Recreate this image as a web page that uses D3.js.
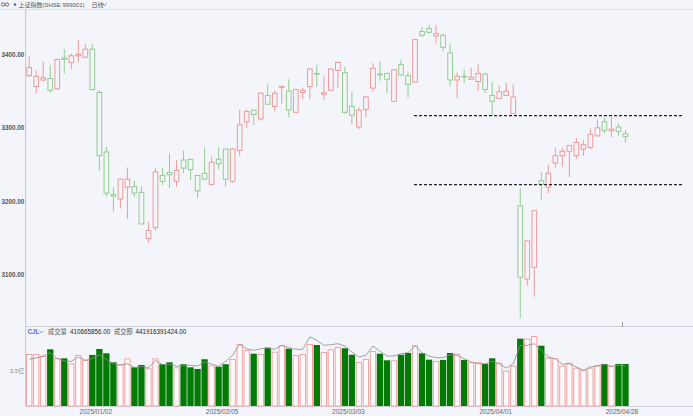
<!DOCTYPE html>
<html><head><meta charset="utf-8">
<script src="https://cdn.jsdelivr.net/npm/d3@7"></script>
<style>
html,body{margin:0;padding:0;background:#f4f5fa;}
svg{display:block;font-family:"Liberation Sans","Noto Sans CJK SC",sans-serif;}
</style></head><body>
<svg id="c" width="693" height="416"></svg>
<script>
const dates = [
"2024/12/18","2024/12/19","2024/12/20","2024/12/23","2024/12/24","2024/12/25","2024/12/26","2024/12/27","2024/12/30","2024/12/31",
"2025/01/02","2025/01/03","2025/01/06","2025/01/07","2025/01/08","2025/01/09","2025/01/10","2025/01/13","2025/01/14","2025/01/15",
"2025/01/16","2025/01/17","2025/01/20","2025/01/21","2025/01/22","2025/01/23","2025/01/24","2025/01/27",
"2025/02/05","2025/02/06","2025/02/07","2025/02/10","2025/02/11","2025/02/12","2025/02/13","2025/02/14","2025/02/17","2025/02/18",
"2025/02/19","2025/02/20","2025/02/21","2025/02/24","2025/02/25","2025/02/26","2025/02/27","2025/02/28",
"2025/03/03","2025/03/04","2025/03/05","2025/03/06","2025/03/07","2025/03/10","2025/03/11","2025/03/12","2025/03/13","2025/03/14",
"2025/03/17","2025/03/18","2025/03/19","2025/03/20","2025/03/21","2025/03/24","2025/03/25","2025/03/26","2025/03/27","2025/03/28","2025/03/31",
"2025/04/01","2025/04/02","2025/04/03","2025/04/07","2025/04/08","2025/04/09","2025/04/10","2025/04/11","2025/04/14","2025/04/15",
"2025/04/16","2025/04/17","2025/04/18","2025/04/21","2025/04/22","2025/04/23","2025/04/24","2025/04/25","2025/04/28"];

const open  = [3371,3356,3365,3367,3353,3395,3389,3398,3396,3407, 3348,3267,3209,3203,3219,3220,3212,3149,3164,3235,
 3239,3227,3256,3257,3235,3238,3223,3257, 3271,3227,3269,3308,3324,3312,3344,3329,3355,3350,
 3321,3348,3356,3374,3345.5,3351,3378,3375, 3329,3301,3325,3354,3373,3374,3336,3386,3371,3362,
 3431,3435,3425,3426,3402,3365,3370,3366,3363,3373,3344, 3340,3344,3319,3193.5,3094,3110,3228,3219,3252,3262,
 3268,3262,3271,3273,3289,3308,3296,3301,3292];
const high  = [3397,3378,3390,3385,3394,3407,3401,3420,3414,3414, 3351,3274,3219,3231,3246,3228,3220,3172,3245,3246,
 3265,3256,3269,3258,3235,3273,3261,3274, 3271,3272,3324,3325,3325,3348,3360,3351,3358,3366,
 3352,3355,3381,3386,3370,3381,3390,3383, 3349,3328,3343,3388,3391,3375,3380,3393,3377,3421,
 3437,3440,3440,3428,3415,3375,3379,3382,3386,3375,3362, 3358,3361,3359,3217.6,3146,3187,3240,3250,3273,3273,
 3276,3286,3283,3299,3311,3314,3315,3306,3297];
const low   = [3369,3347,3363,3348,3352,3374,3380,3389,3395,3351, 3242,3206,3186,3190,3176,3206,3169,3143,3160,3222,
 3218,3220,3238,3229,3204,3229,3221,3243, 3220,3225,3262,3299,3304,3310,3332,3322,3333,3314,
 3321,3339,3339,3356,3338,3350,3354,3319, 3305,3298,3314,3349,3364,3347,3335,3370,3341,3362,
 3423,3428,3415,3404,3356,3340,3361,3366,3350,3347,3316, 3339,3343,3319,3040.6,3085,3070,3202,3211,3245,3247,
 3233,3258,3262,3271,3288,3293,3287,3289,3280];
const close = [3382,3370,3368,3351,3393,3393,3398,3400,3407,3352, 3262,3211,3207,3230,3230,3211,3169,3160,3240,3227,
 3236,3242,3245,3243,3214,3230,3253,3251, 3230,3271,3304,3322,3318,3347,3332,3347,3356,3324,
 3352,3351,3380,3373,3347.5,3380,3389,3321, 3317,3324,3342,3381,3372,3366,3379,3372,3359,3420,
 3426,3430,3428,3409.5,3365,3370,3369.5,3369,3374,3352,3336, 3349,3350,3342,3096.4,3146,3187,3223,3238,3262,3268,
 3276,3280,3277,3291,3300,3296,3298,3295,3288];
// 成交量 (亿)
const volume = [5.08,5.08,4.89,5.54,4.69,4.66,4.17,4.99,4.50,4.99, 5.57,5.15,4.27,4.11,4.66,3.78,4.01,3.69,4.66,4.08,
 4.27,3.78,4.08,3.78,3.62,4.57,3.98,3.84, 4.08,4.59,6.06,5.47,5.11,5.08,5.70,5.31,5.93,5.60,
 4.99,5.08,6.06,5.96,5.28,5.54,5.77,5.64, 5.01,4.30,4.59,5.38,5.11,4.47,4.47,5.01,5.18,5.96,
 5.15,4.53,4.40,4.50,5.18,5.11,4.50,4.27,4.27,4.11,4.66, 4.23,3.45,3.94,6.58,6.58,6.84,5.89,4.72,4.66,3.94,
 4.23,3.74,3.52,3.74,3.98,4.11,3.91,4.11,4.107];
// 成交额 (亿元)
const amount = [5160,5300,5525,5890,5230,4970,4940,5415,5050,5230, 5670,5160,4675,4500,4675,4235,4385,4200,5050,4565,
 4640,4385,4500,4500,4420,4860,4640,4385, 4940,5600,6815,6330,6150,6330,6410,6265,6705,6445,
 6265,6265,7625,7260,6705,6775,6885,6630, 5970,5415,5600,6630,6045,5525,5525,5780,5890,6630,
 5890,5525,5340,5350,5670,5600,5230,4860,4675,4675,4940, 4675,4200,4675,6705,6705,6885,6150,5415,5230,4605,
 4675,4310,3945,4310,4420,4605,4385,4500,4419];

const priceTicks = [3100, 3200, 3300, 3400];
const volTicks = [3.5];
const dateLabels = ["2025/01/02","2025/02/05","2025/03/03","2025/04/01","2025/04/28"];
// horizontal drawn levels: price, from/to expressed in bar-slot units
const levelPrices = [3316.5, 3222.5];
const levelFrom = 55.35, levelTo = 93.7;

const lastVolume = "410665856.00", lastAmount = "441916391424.00";

const svg = d3.select("#c");
const W = 693, H = 416;
const axisX = 25.7, step = 7.015;
const mainTop = 9, mainBottom = 327, volBottom = 406;

const x = d3.scaleBand().domain(dates)
  .range([axisX, axisX + dates.length*step]).paddingInner(0.19).paddingOuter(0.095);
const slot = d3.scaleLinear().domain([0, dates.length]).range([axisX, axisX + dates.length*step]);
const cx = d => x(d) + x.bandwidth()/2;

const y = d3.scaleLinear().domain([3028.7, 3461.7]).range([mainBottom, mainTop]);
const yv = d3.scaleLinear().domain([0, 7.72]).range([volBottom, mainBottom]);
const ya = d3.scaleLinear().domain([0, 8730]).range([volBottom, mainBottom]);

const data = dates.map((d,i)=>({d,i,o:open[i],h:high[i],l:low[i],c:close[i],v:volume[i],a:amount[i],up:close[i]>=open[i]}));

// frame lines
svg.append("line").attr("x1",0).attr("x2",W).attr("y1",mainTop+0.5).attr("y2",mainTop+0.5).attr("stroke","#dcdce4");
svg.append("line").attr("x1",axisX).attr("x2",W).attr("y1",mainBottom-0.5).attr("y2",mainBottom-0.5).attr("stroke","#cfcfd8");
svg.append("line").attr("x1",axisX).attr("x2",W).attr("y1",volBottom+0.5).attr("y2",volBottom+0.5).attr("stroke","#cfcfd8");
svg.append("line").attr("x1",axisX).attr("x2",axisX).attr("y1",mainTop).attr("y2",volBottom).attr("stroke","#c4c4cc");

// header
const hd = svg.append("g");
hd.append("circle").attr("cx",3).attr("cy",4.5).attr("r",1.7).attr("fill","none").attr("stroke","#555").attr("stroke-width",0.8);
hd.append("circle").attr("cx",7).attr("cy",4.5).attr("r",1.7).attr("fill","none").attr("stroke","#555").attr("stroke-width",0.8);
hd.append("circle").attr("cx",15).attr("cy",4.5).attr("r",1.3).attr("fill","#2f6fdc");
hd.append("text").attr("x",18.5).attr("y",7.2).attr("font-size",6).attr("fill","#555").text("上证指数(SHSE 999001)");
hd.append("text").attr("x",91.5).attr("y",7.2).attr("font-size",6).attr("fill","#555").text("日线");
hd.append("path").attr("d","M102.5,3.5 L104.5,5.7 L106.5,3.5").attr("fill","none").attr("stroke","#555").attr("stroke-width",0.7);

// price axis labels
const yAxis = d3.axisLeft(y).tickValues(priceTicks).tickSize(0).tickPadding(1.5).tickFormat(d3.format(".2f"));
const ga = svg.append("g").attr("transform",`translate(${axisX},0)`).call(yAxis);
ga.select(".domain").remove();
ga.selectAll("text").attr("font-size",6.3).attr("fill","#555").attr("font-weight","bold")
  .attr("font-family","Liberation Sans, sans-serif");

// candles
const red = "#f09a9a", green = "#93cc93";
const cw = step*0.81;
const cg = svg.append("g");
cg.selectAll("line.wick").data(data).join("line").attr("class","wick")
  .attr("x1",d=>cx(d.d)).attr("x2",d=>cx(d.d))
  .attr("y1",d=>y(d.h)).attr("y2",d=>y(d.l))
  .attr("stroke",d=>d.up?red:green).attr("stroke-width",1);
cg.selectAll("rect.body").data(data).join("rect").attr("class","body")
  .attr("x",d=>cx(d.d)-cw/2+0.5).attr("width",cw-1)
  .attr("y",d=>y(Math.max(d.o,d.c)))
  .attr("height",d=>Math.max(0.6, Math.abs(y(d.o)-y(d.c))))
  .attr("fill","#f4f5fa").attr("stroke",d=>d.up?red:green).attr("stroke-width",1);

// dashed level lines
svg.selectAll("line.lvl").data(levelPrices).join("line").attr("class","lvl")
  .attr("x1",slot(levelFrom)).attr("x2",slot(levelTo))
  .attr("y1",d=>y(d)).attr("y2",d=>y(d))
  .attr("stroke","#222").attr("stroke-width",1.1).attr("stroke-dasharray","3,2");

// small tick at last date label
const lastIdx = dates.indexOf(dateLabels[dateLabels.length-1]);
svg.append("line").attr("x1",slot(lastIdx)+0.5).attr("x2",slot(lastIdx)+0.5)
  .attr("y1",mainBottom-5).attr("y2",mainBottom).attr("stroke","#999");

// volume header
const vh = svg.append("g").attr("font-size",6.3);
vh.append("text").attr("x",27.5).attr("y",333.5).attr("fill","#3b74d6").attr("font-weight","bold").text("CJL");
vh.append("path").attr("d","M39.2,330.6 L41.2,332.8 L43.2,330.6").attr("fill","none").attr("stroke","#3b74d6").attr("stroke-width",0.7);
vh.append("text").attr("x",48).attr("y",333.5).attr("fill","#555").text("成交量");
vh.append("text").attr("x",70).attr("y",333.5).attr("fill","#222").text(lastVolume);
vh.append("text").attr("x",114).attr("y",333.5).attr("fill","#555").text("成交额");
vh.append("text").attr("x",135.5).attr("y",333.5).attr("fill","#222").text(lastAmount);

// volume bars
const vw = step*0.9;
const vg = svg.append("g");
vg.selectAll("rect").data(data).join("rect")
  .attr("x",d=>d.up? cx(d.d)-vw/2+0.5 : cx(d.d)-vw/2)
  .attr("width",d=>d.up? vw-1 : vw)
  .attr("y",d=>d.up? yv(d.v)+0.5 : yv(d.v))
  .attr("height",d=>d.up? volBottom-yv(d.v)-0.5 : volBottom-yv(d.v))
  .attr("fill",d=>d.up?"#fbfbfd":"#037a03")
  .attr("stroke",d=>d.up?"#f3a3a3":"none").attr("stroke-width",1);

// amount line
svg.append("path").datum(data)
  .attr("d",d3.line().x(d=>cx(d.d)).y(d=>ya(d.a)))
  .attr("fill","none").attr("stroke","#8c8c8c").attr("stroke-width",0.8);

// volume axis label
const va = d3.axisLeft(yv).tickValues(volTicks).tickSize(0).tickPadding(1.5).tickFormat(d=>d+"亿");
const gva = svg.append("g").attr("transform",`translate(${axisX},0)`).call(va);
gva.select(".domain").remove();
gva.selectAll("text").attr("font-size",6).attr("fill","#888").attr("font-family","Liberation Sans, Noto Sans CJK SC, sans-serif");

// date labels
svg.selectAll("text.dl").data(dateLabels).join("text").attr("class","dl")
  .attr("x",d=>slot(dates.indexOf(d))).attr("y",413.5)
  .attr("text-anchor","middle").attr("font-size",6.5).attr("fill","#666").text(d=>d);
</script>
</body></html>
